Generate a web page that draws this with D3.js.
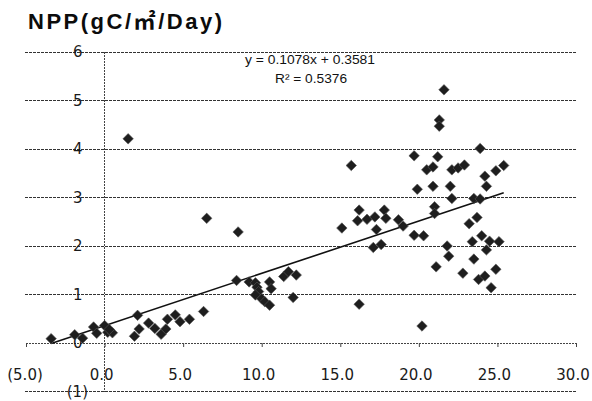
<!DOCTYPE html>
<html><head><meta charset="utf-8">
<script src="https://cdn.jsdelivr.net/npm/d3@7"></script>
<style>
html,body{margin:0;padding:0;background:#fff;}
svg{display:block;}
</style></head>
<body>
<svg id="chart" width="592" height="401"></svg>
<script>
const title = "NPP(gC/㎡/Day)";
const equationText = "y = 0.1078x + 0.3581";
const r2Text = "R² = 0.5376";
const slope = 0.1078, intercept = 0.3581;
const xTicks = [-5, 0, 5, 10, 15, 20, 25, 30];
const yTicks = [-1, 0, 1, 2, 3, 4, 5, 6];
const xValues = [
  -3.4,-1.9,-1.4,-0.7,-0.5,0.0,0.2,0.5,0.3,2.1,1.9,2.2,2.8,3.2,3.6,3.9,4.0,4.5,4.8,5.4,6.3,1.5,6.5,8.5,
  8.4,9.2,9.6,9.7,9.8,9.6,10.0,10.2,10.5,10.5,10.6,11.4,11.7,12.2,12.0,
  15.1,15.7,16.2,16.1,16.7,17.2,17.8,17.9,18.7,19.0,17.3,17.1,17.6,16.2,19.7,20.3,19.7,19.9,20.2,
  20.5,20.9,20.9,21.2,21.0,21.0,21.1,21.3,21.3,21.6,21.8,21.9,22.0,22.1,22.1,22.5,22.9,22.8,23.2,
  23.5,23.9,23.7,23.4,23.5,23.9,24.0,24.2,24.3,24.3,24.5,24.9,25.1,25.4,24.9,23.8,24.2,24.6
];
const yValues = [
  0.09,0.17,0.10,0.33,0.20,0.36,0.22,0.21,0.28,0.57,0.14,0.29,0.41,0.30,0.18,0.29,0.49,0.58,0.44,0.49,0.65,4.21,2.57,2.29,
  1.29,1.26,1.24,1.15,1.06,0.99,0.91,0.85,0.78,1.26,1.12,1.37,1.47,1.40,0.94,
  2.37,3.66,2.74,2.52,2.55,2.60,2.74,2.57,2.54,2.41,2.34,1.97,2.03,0.80,2.22,2.21,3.86,3.17,0.35,
  3.57,3.63,3.23,3.84,2.81,2.67,1.57,4.60,4.47,5.22,2.00,1.79,3.23,2.98,3.57,3.61,3.67,1.44,2.46,
  2.98,2.97,2.59,2.09,1.73,4.01,2.21,3.44,3.23,1.92,2.10,3.55,2.09,3.66,1.52,1.31,1.38,1.14
];

const svg = d3.select("#chart");
const x = d3.scaleLinear().domain([-5, 30]).range([26, 576]);
const y = d3.scaleLinear().domain([-1, 6]).range([391.5, 52]);

// Title
svg.append("text")
  .attr("x", 28).attr("y", 29)
  .attr("font-family", "'Liberation Sans', Arial, 'Noto Sans CJK JP', sans-serif")
  .attr("font-weight", "bold").attr("font-size", 22)
  .attr("textLength", 194).attr("lengthAdjust", "spacing")
  .attr("fill", "#0c0c0c")
  .text(title);

// Horizontal gridlines
svg.append("g").selectAll("line").data(yTicks.filter(d => d !== 0)).join("line")
  .attr("x1", x(-5) - 1).attr("x2", x(30) + 1)
  .attr("y1", d => y(d)).attr("y2", d => y(d))
  .attr("stroke", "#333").attr("stroke-width", 1)
  .attr("stroke-dasharray", "3,1")
  .attr("shape-rendering", "crispEdges");

// Vertical axis at x = 0
svg.append("line")
  .attr("x1", x(0)).attr("x2", x(0))
  .attr("y1", y(6)).attr("y2", y(-1))
  .attr("stroke", "#444").attr("stroke-width", 1)
  .attr("stroke-dasharray", "2,1")
  .attr("shape-rendering", "crispEdges");

// Horizontal axis at y = 0 with tick marks
const xAxis = d3.axisBottom(x).tickValues(xTicks).tickSize(4).tickFormat("");
const gx = svg.append("g").attr("transform", `translate(0,${y(0)})`).call(xAxis);
gx.select(".domain").attr("stroke", "#444").attr("stroke-dasharray", "2,1");
gx.selectAll(".tick line").attr("stroke", "#444");

// X tick labels
const fmtX = d => d < 0 ? `(${d3.format(".1f")(-d)})` : d3.format(".1f")(d);
svg.append("g").selectAll("text").data(xTicks).join("text")
  .attr("x", d => x(d) + (d < 0 ? -1 : -3))
  .attr("y", 380)
  .attr("text-anchor", "middle")
  .attr("font-family", "'DejaVu Sans', sans-serif")
  .attr("font-size", 15).attr("fill", "#1a1a1a")
  .text(fmtX);

// Y tick labels
const fmtY = d => d < 0 ? `(${-d})` : `${d}`;
svg.append("g").selectAll("text").data(yTicks).join("text")
  .attr("x", d => d < 0 ? 88 : 82.5)
  .attr("y", d => y(d))
  .attr("dy", "0.36em")
  .attr("text-anchor", "end")
  .attr("font-family", "'DejaVu Sans', sans-serif")
  .attr("font-size", 15).attr("fill", "#1a1a1a")
  .text(fmtY);

// Trend line
const xMin = d3.min(xValues), xMax = d3.max(xValues);
svg.append("line")
  .attr("x1", x(xMin)).attr("y1", y(slope * xMin + intercept))
  .attr("x2", x(xMax)).attr("y2", y(slope * xMax + intercept))
  .attr("stroke", "#111").attr("stroke-width", 1.6);

// Points (diamonds)
const pts = xValues.map((v, i) => ({x: v, y: yValues[i]}));
const diamond = d3.symbol().type(d3.symbolDiamond2).size(70);
svg.append("g").selectAll("path").data(pts).join("path")
  .attr("transform", d => `translate(${x(d.x)},${y(d.y)})`)
  .attr("d", diamond)
  .attr("fill", "#1e1e1e").attr("stroke", "#555").attr("stroke-width", 0.6);

// Equation
svg.append("text")
  .attr("x", 310).attr("y", 64)
  .attr("text-anchor", "middle")
  .attr("font-family", "'Liberation Sans', Arial, sans-serif")
  .attr("font-size", 13).attr("fill", "#111")
  .attr("textLength", 130).attr("lengthAdjust", "spacingAndGlyphs")
  .text(equationText);
svg.append("text")
  .attr("x", 311).attr("y", 83)
  .attr("text-anchor", "middle")
  .attr("font-family", "'Liberation Sans', Arial, sans-serif")
  .attr("font-size", 13).attr("fill", "#111")
  .attr("textLength", 72).attr("lengthAdjust", "spacingAndGlyphs")
  .text(r2Text);
</script>
</body></html>
